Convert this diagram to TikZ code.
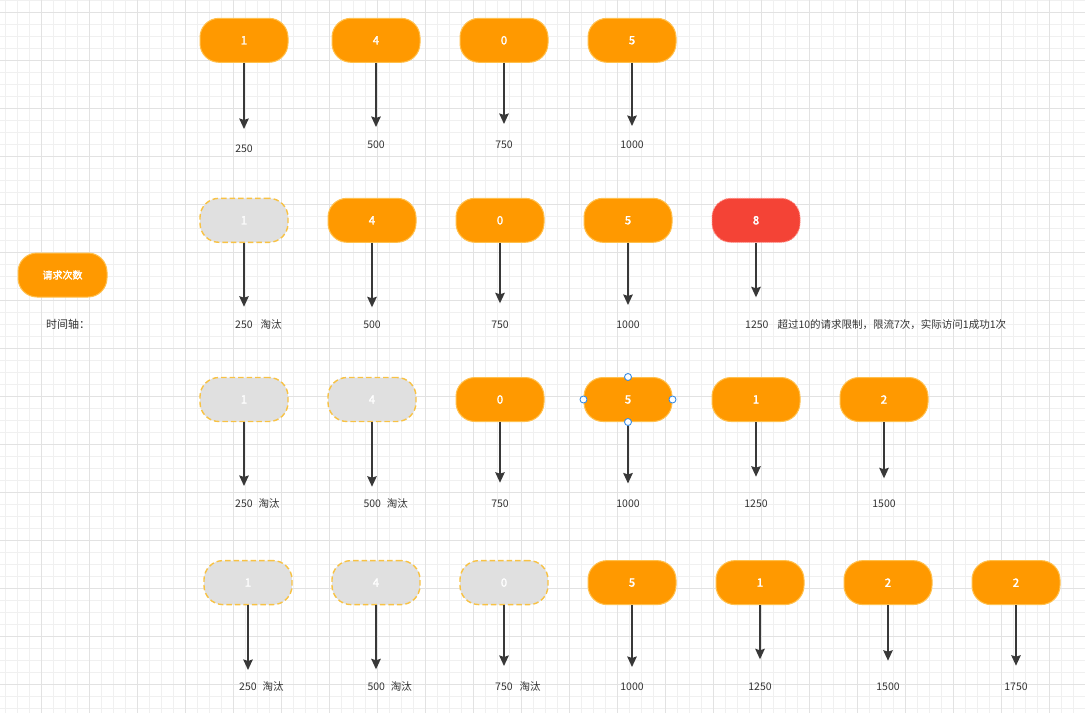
\documentclass[tikz,border=0pt]{standalone}
\usepackage{fontspec}
\setmainfont{Noto Sans CJK SC}
\newfontfamily\pillfont[FakeBold=2]{Noto Sans CJK SC}
\usetikzlibrary{arrows.meta}
\definecolor{gridminor}{HTML}{F0F0F0}
\definecolor{gridmajor}{HTML}{E2E2E2}
\definecolor{boxorange}{HTML}{FF9900}
\definecolor{boxorangeline}{HTML}{FFC04D}
\definecolor{boxgray}{HTML}{E0E0E0}
\definecolor{boxgrayline}{HTML}{F8C244}
\definecolor{boxred}{HTML}{F44336}
\definecolor{boxredline}{HTML}{FF8A80}
\definecolor{arrowcol}{HTML}{383838}
\definecolor{labelcol}{HTML}{333333}
\definecolor{handleblue}{HTML}{3A8EE6}
\begin{document}
\begin{tikzpicture}[x=1pt,y=-1pt,
  pill/.style={rectangle,rounded corners=19pt,minimum width=88pt,minimum height=44pt,inner sep=0pt,
    font=\pillfont\fontsize{11.5}{12}\selectfont,text=white,line width=1pt},
  okbox/.style={pill,fill=boxorange,draw=boxorangeline},
  gonebox/.style={pill,fill=boxgray,draw=boxgrayline,dash pattern=on 5.5pt off 3pt,line width=1.4pt},
  redbox/.style={pill,fill=boxred,draw=boxredline,dash pattern=on 1pt off 1pt},
  tline/.style={draw=arrowcol,line width=1.6pt,-{Stealth[length=10.5pt,width=9.5pt,inset=1.5pt]}},
  lbl/.style={inner sep=0pt,text=labelcol,font=\fontsize{10.5}{12}\selectfont},
  handle/.style={circle,draw=handleblue,fill=white,line width=0.9pt,minimum size=7pt,inner sep=0pt}]
\useasboundingbox (0,0) rectangle (1085,713);
\fill[white] (0,0) rectangle (1085,713);
% grid
\foreach \gx in {0,...,90} {\draw[gridminor,line width=1pt] ({5.5+12*\gx},0) -- ({5.5+12*\gx},713);}
\foreach \gy in {0,...,59} {\draw[gridminor,line width=1pt] (0,{0.3+12*\gy}) -- (1085,{0.3+12*\gy});}
\foreach \gx in {0,...,22} {\draw[gridmajor,line width=1pt] ({41.5+48*\gx},0) -- ({41.5+48*\gx},713);}
\foreach \gy in {0,...,14} {\draw[gridmajor,line width=1pt] (0,{12.3+48*\gy}) -- (1085,{12.3+48*\gy});}

% legend
\node[okbox,minimum width=89pt,font=\pillfont\fontsize{10}{12}\selectfont] (legend) at (62.5,275) {请求次数};
\node[lbl,font=\fontsize{11}{12}\selectfont] (axis) at (68,324.5) {时间轴：};

% row 1
\node[okbox] (a1) at (244,40.3) {1};
\node[okbox] (a2) at (376,40.3) {4};
\node[okbox] (a3) at (504,40.3) {0};
\node[okbox] (a4) at (632,40.3) {5};
\coordinate (ta1) at (244,129);
\coordinate (ta2) at (376,127);
\coordinate (ta3) at (504,124);
\coordinate (ta4) at (632,126);
\foreach \i in {1,...,4} {\draw[tline] (a\i.south) -- (ta\i);}
\node[lbl] (la1) at (244,149) {250};
\node[lbl] (la2) at (376,145) {500};
\node[lbl] (la3) at (504,145) {750};
\node[lbl] (la4) at (632,145) {1000};

% row 2
\node[gonebox] (b1) at (244,220.3) {1};
\node[okbox] (b2) at (372,220.3) {4};
\node[okbox] (b3) at (500,220.3) {0};
\node[okbox] (b4) at (628,220.3) {5};
\node[redbox] (b5) at (756,220.3) {8};
\coordinate (tb1) at (244,306.7);
\coordinate (tb2) at (372,307.3);
\coordinate (tb3) at (500,303.3);
\coordinate (tb4) at (628,305);
\coordinate (tb5) at (756,297.3);
\foreach \i in {1,...,5} {\draw[tline] (b\i.south) -- (tb\i);}
\node[lbl,anchor=west] (lb1) at (235,324.3) {250\hspace{8pt}淘汰};
\node[lbl] (lb2) at (372,324.3) {500};
\node[lbl] (lb3) at (500,324.3) {750};
\node[lbl] (lb4) at (628,324.3) {1000};
\node[lbl,anchor=west] (lb5) at (745,324.8) {1250\hspace{9pt}超过10的请求限制，限流7次，实际访问1成功1次};

% row 3
\node[gonebox] (c1) at (244,399.5) {1};
\node[gonebox] (c2) at (372,399.5) {4};
\node[okbox] (c3) at (500,399.5) {0};
\node[okbox] (c4) at (628,399.5) {5};
\node[okbox] (c5) at (756,399.5) {1};
\node[okbox] (c6) at (884,399.5) {2};
\coordinate (tc1) at (244,486);
\coordinate (tc2) at (372,486.7);
\coordinate (tc3) at (500,482.7);
\coordinate (tc4) at (628,483.5);
\coordinate (tc5) at (756,476.7);
\coordinate (tc6) at (884,478.3);
\foreach \i in {1,...,6} {\draw[tline] (c\i.south) -- (tc\i);}
\node[lbl,anchor=west] (lc1) at (235,503.3) {250\hspace{6pt}淘汰};
\node[lbl,anchor=west] (lc2) at (363.3,503.3) {500\hspace{6pt}淘汰};
\node[lbl] (lc3) at (500,503.3) {750};
\node[lbl] (lc4) at (628,503.3) {1000};
\node[lbl] (lc5) at (756,503.3) {1250};
\node[lbl] (lc6) at (884,503.3) {1500};
% selection handles on box 5
\node[handle] (h1) at (c4.north) {};
\node[handle] (h2) at (c4.south) {};
\node[handle] (h3) at (c4.west) {};
\node[handle] (h4) at (c4.east) {};

% row 4
\node[gonebox] (d1) at (248,582.6) {1};
\node[gonebox] (d2) at (376,582.6) {4};
\node[gonebox] (d3) at (504,582.6) {0};
\node[okbox] (d4) at (632,582.6) {5};
\node[okbox] (d5) at (760,582.6) {1};
\node[okbox] (d6) at (888,582.6) {2};
\node[okbox] (d7) at (1016,582.6) {2};
\coordinate (td1) at (248,670);
\coordinate (td2) at (376,669.3);
\coordinate (td3) at (504,666);
\coordinate (td4) at (632,667);
\coordinate (td5) at (760,659.3);
\coordinate (td6) at (888,660.7);
\coordinate (td7) at (1016,665.7);
\foreach \i in {1,...,7} {\draw[tline] (d\i.south) -- (td\i);}
\node[lbl,anchor=west] (ld1) at (239,686.5) {250\hspace{6pt}淘汰};
\node[lbl,anchor=west] (ld2) at (367.3,686.5) {500\hspace{6pt}淘汰};
\node[lbl,anchor=west] (ld3) at (495,686.5) {750\hspace{7pt}淘汰};
\node[lbl] (ld4) at (632,686.5) {1000};
\node[lbl] (ld5) at (760,686.5) {1250};
\node[lbl] (ld6) at (888,686.5) {1500};
\node[lbl] (ld7) at (1016,686.5) {1750};
\end{tikzpicture}
\end{document}
